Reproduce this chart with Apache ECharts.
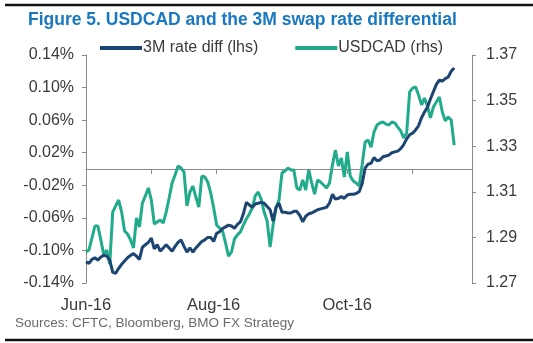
<!DOCTYPE html>
<html>
<head>
<meta charset="utf-8">
<script src="https://cdn.jsdelivr.net/npm/echarts@6/dist/echarts.min.js"></script>
<style>
html,body{margin:0;padding:0;background:#fff;}
#chart{width:533px;height:343px;}
</style>
</head>
<body>
<div id="chart"></div>
<script>
// ---- DATA ----
var titleText = "Figure 5. USDCAD and the 3M swap rate differential";
var sourceText = "Sources: CFTC, Bloomberg, BMO FX Strategy";
var seriesNames = ["3M rate diff (lhs)", "USDCAD (rhs)"];
var leftTicks = [-0.14, -0.10, -0.06, -0.02, 0.02, 0.06, 0.10, 0.14];
var rightTicks = [1.27, 1.29, 1.31, 1.33, 1.35, 1.37];
var xTickLabels = ["Jun-16", "Aug-16", "Oct-16"];
var startDate = "2016-06-01";
var categoryCount = 131;

// 3M swap rate differential (%), business days from 1 Jun 2016
var rateDiff = [
 -0.114,-0.116,-0.111,-0.109,-0.112,-0.108,-0.106,-0.107,-0.112,-0.127,
 -0.128,-0.122,-0.117,-0.113,-0.109,-0.106,-0.104,-0.107,-0.111,-0.096,
 -0.093,-0.090,-0.085,-0.098,-0.093,-0.101,-0.097,-0.093,-0.097,-0.101,
 -0.095,-0.090,-0.087,-0.095,-0.102,-0.097,-0.102,-0.097,-0.093,-0.089,
 -0.087,-0.084,-0.084,-0.089,-0.079,-0.077,-0.073,-0.071,-0.069,-0.070,
 -0.073,-0.068,-0.065,-0.055,-0.041,-0.044,-0.047,-0.043,-0.042,-0.041,
 -0.042,-0.046,-0.050,-0.064,-0.047,-0.042,-0.053,-0.053,-0.054,-0.054,
 -0.052,-0.052,-0.057,-0.065,-0.058,-0.055,-0.054,-0.052,-0.050,-0.049,
 -0.048,-0.047,-0.042,-0.031,-0.037,-0.036,-0.034,-0.036,-0.032,-0.031,
 -0.031,-0.030,-0.028,-0.018,0.001,0.006,0.007,0.014,0.010,0.011,
 0.015,0.016,0.017,0.020,0.021,0.022,0.025,0.030,0.037,0.042,
 0.044,0.048,0.053,0.063,0.070,0.076,0.086,0.095,0.104,0.109,
 0.108,0.111,0.113,0.120,0.124
];
// USDCAD spot
var usdcad = [
 1.2836,1.2845,1.2897,1.2950,1.2950,1.2889,1.2823,1.2845,1.2783,1.3011,
 1.3038,1.3064,1.3011,1.2928,1.2915,1.2889,1.2854,1.2985,1.2946,1.3051,
 1.3082,1.3117,1.3064,1.2959,1.2968,1.2976,1.2963,1.3011,1.3073,1.3139,
 1.3174,1.3213,1.3204,1.3187,1.3038,1.3099,1.3125,1.3077,1.3033,1.3169,
 1.3165,1.3143,1.3095,1.3029,1.2954,1.2941,1.2928,1.2875,1.2818,1.2836,
 1.2893,1.2911,1.2924,1.2954,1.2981,1.3003,1.3029,1.3082,1.3099,1.3068,
 1.3011,1.2972,1.2858,1.2954,1.3029,1.3064,1.3182,1.3191,1.3204,1.3196,
 1.3196,1.3117,1.3108,1.3152,1.3108,1.3196,1.3139,1.3090,1.3152,1.3143,
 1.3130,1.3117,1.3139,1.3218,1.3283,1.3213,1.3248,1.3165,1.3275,1.3169,
 1.3147,1.3139,1.3125,1.3218,1.3318,1.3327,1.3296,1.3362,1.3393,1.3402,
 1.3406,1.3397,1.3393,1.3406,1.3402,1.3384,1.3367,1.3336,1.3358,1.3538,
 1.3555,1.3560,1.3525,1.3481,1.3511,1.3476,1.3424,1.3472,1.3494,1.3516,
 1.3450,1.3411,1.3428,1.3415,1.3305
];

// business-day categories
var monthNames = ["Jan","Feb","Mar","Apr","May","Jun","Jul","Aug","Sep","Oct","Nov","Dec"];
var dates = [];
(function(){
  var d = new Date(startDate + "T00:00:00");
  while (dates.length < categoryCount) {
    var wd = d.getDay();
    if (wd !== 0 && wd !== 6) {
      dates.push(monthNames[d.getMonth()] + "-" + String(d.getFullYear()).slice(2) + "|" + d.getDate());
    }
    d.setDate(d.getDate() + 1);
  }
})();
function monthLabel(c){ return c.split("|")[0]; }
function isLabelCat(idx){
  var m = monthLabel(dates[idx]);
  if (xTickLabels.indexOf(m) < 0) return false;
  return idx === 0 || monthLabel(dates[idx - 1]) !== m;
}

var axisGrey = "#8a8a8a";
var textCol = "#3a3a3a";
var chart = echarts.init(document.getElementById("chart"), null, {renderer: "canvas"});
chart.setOption({
  animation: false,
  backgroundColor: "#fff",
  title: {
    text: titleText, left: 23, top: 6,
    textStyle: {fontFamily: "Liberation Sans, Arial", fontSize: 17.5, fontWeight: "bold", color: "#1a78c2"}
  },
  legend: {
    data: seriesNames, left: 95, top: 35, icon: "rect", itemWidth: 42, itemHeight: 4, itemGap: 37,
    textStyle: {fontFamily: "Liberation Sans, Arial", fontSize: 16, color: textCol, padding: [0,0,0,-4]}
  },
  grid: {left: 86, right: 61, top: 55, bottom: 60, containLabel: false},
  xAxis: [
    {
      type: "category", data: dates, boundaryGap: false, position: "bottom",
      axisLine: {show: false, onZero: false}, axisTick: {show: false}, splitLine: {show: false},
      axisLabel: {
        interval: function(idx){ return isLabelCat(idx); },
        formatter: function(v){ return monthLabel(v); },
        fontFamily: "Liberation Sans, Arial", fontSize: 16.5, color: textCol, margin: 14
      }
    },
    {
      type: "category", data: dates, boundaryGap: false, position: "top",
      axisLine: {show: true, onZero: true, onZeroAxisIndex: 0, lineStyle: {color: axisGrey, width: 1}},
      axisTick: {show: true, interval: 21, length: 5, inside: true, lineStyle: {color: axisGrey}},
      axisLabel: {show: false}, splitLine: {show: false}
    }
  ],
  yAxis: [
    {
      type: "value", position: "left", min: -0.14, max: 0.14,
      axisLine: {show: true, lineStyle: {color: axisGrey}},
      axisTick: {show: true, length: 4, inside: false, customValues: leftTicks, lineStyle: {color: axisGrey}},
      splitLine: {show: false},
      axisLabel: {
        customValues: leftTicks,
        formatter: function(v){ return v.toFixed(2) + "%"; },
        fontFamily: "Liberation Sans, Arial", fontSize: 16, color: textCol, margin: 12
      }
    },
    {
      type: "value", position: "right", min: 1.27, max: 1.37,
      axisLine: {show: true, lineStyle: {color: axisGrey}},
      axisTick: {show: true, length: 4, inside: false, customValues: rightTicks, lineStyle: {color: axisGrey}},
      splitLine: {show: false},
      axisLabel: {
        customValues: rightTicks,
        formatter: function(v){ return v.toFixed(2); },
        fontFamily: "Liberation Sans, Arial", fontSize: 16, color: textCol, margin: 14
      }
    }
  ],
  series: [
    {
      name: seriesNames[0], type: "line", xAxisIndex: 0, yAxisIndex: 0, data: rateDiff,
      showSymbol: false, symbol: "none", lineStyle: {color: "#1c4572", width: 3}, itemStyle: {color: "#1c4572"}, z: 3
    },
    {
      name: seriesNames[1], type: "line", xAxisIndex: 0, yAxisIndex: 1, data: usdcad,
      showSymbol: false, symbol: "none", lineStyle: {color: "#22ab8b", width: 3}, itemStyle: {color: "#22ab8b"}, z: 2
    }
  ],
  graphic: [
    {type: "line", shape: {x1: 5, y1: 5, x2: 533, y2: 5}, style: {stroke: "#111", lineWidth: 2.5}},
    {type: "line", shape: {x1: 5, y1: 340, x2: 533, y2: 340}, style: {stroke: "#111", lineWidth: 2.5}},
    {type: "text", left: 15, top: 316, style: {text: sourceText, fontFamily: "Liberation Sans, Arial", fontSize: 13.5, fill: "#6a6a6a"}}
  ]
});
</script>
</body>
</html>
